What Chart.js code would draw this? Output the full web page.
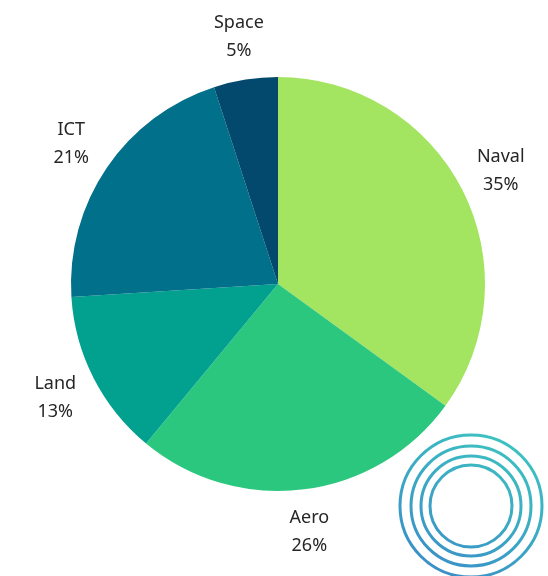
<!DOCTYPE html>
<html>
<head>
<meta charset="utf-8">
<script src="https://cdn.jsdelivr.net/npm/chart.js@4.4.1/dist/chart.umd.min.js"></script>
<style>
  html, body { margin: 0; padding: 0; background: #fff; }
  #wrap { width: 548px; height: 576px; }
</style>
</head>
<body>
<div id="wrap"><canvas id="sectorChart"></canvas></div>
<script>
const labels = ['Naval', 'Aero', 'Land', 'ICT', 'Space'];
const shares = [35, 26, 13, 21, 5];
const colors = ['#a3e461', '#2cc77e', '#01a08f', '#01708a', '#03496d'];

// labels outside the pie, two lines: name and percentage
const outsideLabels = {
  id: 'outsideLabels',
  afterDatasetsDraw(chart) {
    const ctx = chart.ctx;
    const meta = chart.getDatasetMeta(0);
    ctx.save();
    ctx.fillStyle = '#262626';
    ctx.font = '18px "Noto Sans", sans-serif';
    ctx.textAlign = 'center';
    ctx.textBaseline = 'middle';
    meta.data.forEach((arc, i) => {
      const p = arc.getProps(['x', 'y', 'startAngle', 'endAngle', 'outerRadius'], true);
      const mid = (p.startAngle + p.endAngle) / 2;
      const r = p.outerRadius + 43;
      const x = p.x + Math.cos(mid) * r;
      const y = p.y + Math.sin(mid) * r;
      ctx.fillText(labels[i], x, y - 14);
      ctx.fillText(shares[i] + '%', x, y + 14);
    });
    ctx.restore();
  }
};

// decorative rings in the bottom right corner
const rings = {
  id: 'rings',
  afterDraw(chart) {
    const ctx = chart.ctx;
    const cx = 471, cy = 506;
    const grad = ctx.createLinearGradient(cx + 40, cy - 70, cx - 40, cy + 70);
    grad.addColorStop(0, '#3cc4c0');
    grad.addColorStop(1, '#3a8dc8');
    ctx.save();
    ctx.strokeStyle = grad;
    ctx.lineWidth = 3;
    [71, 60, 50, 41].forEach(r => {
      ctx.beginPath();
      ctx.arc(cx, cy, r, 0, Math.PI * 2);
      ctx.stroke();
    });
    ctx.restore();
  }
};

new Chart(document.getElementById('sectorChart'), {
  type: 'pie',
  data: {
    labels,
    datasets: [{
      data: shares,
      backgroundColor: colors,
      borderWidth: 0
    }]
  },
  options: {
    responsive: true,
    maintainAspectRatio: false,
    animation: false,
    layout: { padding: { left: 71, right: 63, top: 77, bottom: 85 } },
    plugins: {
      legend: { display: false },
      tooltip: { enabled: false }
    }
  },
  plugins: [outsideLabels, rings]
});
</script>
</body>
</html>
